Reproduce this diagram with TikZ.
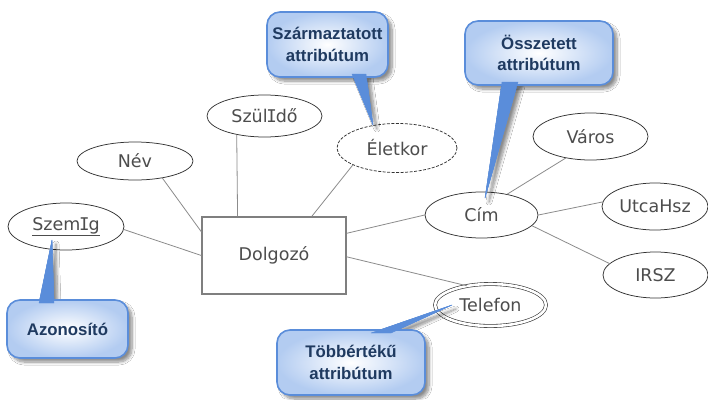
\documentclass[tikz,border=0pt]{standalone}
\usepackage{fontspec}
\setmainfont{DejaVu Sans}
\newfontfamily\calloutfont{Liberation Sans}
\newfontfamily\serifIfont{DejaVu Sans Mono}
\usetikzlibrary{shapes.geometric,shadows.blur}

% capital I with serifs, as in the attribute font
\newcommand{\serifI}{\kern-0.07em{\serifIfont I}\kern-0.07em}

\definecolor{attrtext}{HTML}{4D4D4D}
\definecolor{attrline}{HTML}{333333}
\definecolor{linkgray}{HTML}{8C8C8C}
\definecolor{boxgray}{HTML}{7F7F7F}
\definecolor{callblue}{HTML}{5A8DDA}
\definecolor{callfill}{HTML}{B3CCF1}
\definecolor{calltext}{HTML}{1F3A60}

\tikzset{
  attr/.style={ellipse, draw=attrline, line width=0.75pt, inner sep=0pt,
    text=attrtext, font=\fontsize{17.5}{20}\selectfont},
  entity/.style={rectangle, draw=boxgray, line width=1.1pt, inner sep=0pt,
    fill=white, text=attrtext, font=\fontsize{17.5}{20}\selectfont},
  link/.style={draw=linkgray, line width=0.8pt},
  softshadow/.style={blur shadow={shadow xshift=4pt, shadow yshift=-4pt,
    shadow blur steps=8, shadow blur radius=3pt, shadow opacity=45}},
  callout/.style={rectangle, rounded corners=13pt, draw=callblue, line width=1.6pt,
    inner color=white, outer color=callfill, text=calltext, align=center,
    font=\calloutfont\bfseries\fontsize{16.8}{21.5}\selectfont, softshadow},
  pointer/.style={fill=callblue, draw=callblue, line width=0.4pt, line join=round},
}

\begin{document}
\begin{tikzpicture}[x=1pt, y=-1pt]
  \useasboundingbox (0,0) rectangle (708,399);
  \fill[white] (0,0) rectangle (708,399);

  % entity and attributes
  \node[entity, minimum width=144pt, minimum height=77pt] (dolgozo) at (274,255.5) {Dolgozó};
  \node[attr, minimum width=116pt, minimum height=47pt] (szemig) at (66,226.5) {\underline{Szem\serifI g}};
  \node[attr, minimum width=116pt, minimum height=38pt] (nev) at (135,161) {Név};
  \node[attr, minimum width=115pt, minimum height=42pt] (szulido) at (264.5,116) {Szül\serifI dő};
  \node[attr, dashed, dash pattern=on 3pt off 1.5pt, minimum width=120pt, minimum height=49pt] (eletkor) at (397,148) {Életkor};
  \node[attr, minimum width=113pt, minimum height=46pt] (cim) at (481.5,215) {Cím};
  \node[attr, minimum width=115pt, minimum height=47pt] (varos) at (590.5,136.5) {Város};
  \node[attr, minimum width=106pt, minimum height=47pt] (utcahsz) at (655,206.5) {UtcaHsz};
  \node[attr, minimum width=105pt, minimum height=46pt] (irsz) at (655.5,275) {IRSZ};
  \node[attr, double=white, double distance=2.6pt, line width=0.6pt,
        minimum width=111pt, minimum height=42pt] (telefon) at (490.5,305) {Telefon};

  % relationship lines
  \draw[link] (nev.-32) -- (dolgozo.162.6);
  \draw[link] (szulido.-146.2) -- (dolgozo.133.9);
  \draw[link] (eletkor.-159.2) -- (dolgozo.46.9);
  \draw[link] (szemig.-3) -- (dolgozo.180);
  \draw[link] (dolgozo.17.4) -- (cim.180);
  \draw[link] (dolgozo.-1.2) -- (telefon.141);
  \draw[link] (cim.39) -- (varos.-139.5);
  \draw[link] (cim.0) -- (utcahsz.175);
  \draw[link] (cim.-12.6) -- (irsz.166);

  % callout tails: base points and tips
  \coordinate (derivedA) at (352,74);   \coordinate (derivedB) at (366,74);
  \coordinate (derivedTip) at (373,125);
  \coordinate (compositeA) at (502,82); \coordinate (compositeB) at (518,82);
  \coordinate (compositeTip) at (485,198);
  \coordinate (keyA) at (39,303);       \coordinate (keyB) at (54,303);
  \coordinate (keyTip) at (52,240);
  \coordinate (multiA) at (371,333);    \coordinate (multiB) at (391,333);
  \coordinate (multiTip) at (452,305);

  % tail shadows
  \fill[pointer, softshadow] (derivedA) -- (derivedTip) -- (derivedB) -- cycle;
  \fill[pointer, softshadow] (compositeA) -- (compositeTip) -- (compositeB) -- cycle;
  \fill[pointer, softshadow] (keyA) -- (keyTip) -- (keyB) -- cycle;
  \fill[pointer, softshadow] (multiA) -- (multiTip) -- (multiB) -- cycle;

  % callout boxes
  \node[callout, minimum width=121pt, minimum height=65pt] (derived) at (327.5,44.5)
       {Származtatott\\attribútum};
  \node[callout, minimum width=148pt, minimum height=64pt] (composite) at (539,53)
       {Összetett\\attribútum};
  \node[callout, minimum width=121pt, minimum height=58pt] (key) at (67.5,329)
       {Azonosító};
  \node[callout, minimum width=148pt, minimum height=65pt] (multi) at (351,362.5)
       {Többértékű\\attribútum};

  % tails over the boxes
  \fill[pointer] (derivedA) -- (derivedTip) -- (derivedB) -- cycle;
  \fill[pointer] (compositeA) -- (compositeTip) -- (compositeB) -- cycle;
  \fill[pointer] (keyA) -- (keyTip) -- (keyB) -- cycle;
  \fill[pointer] (multiA) -- (multiTip) -- (multiB) -- cycle;
\end{tikzpicture}
\end{document}
